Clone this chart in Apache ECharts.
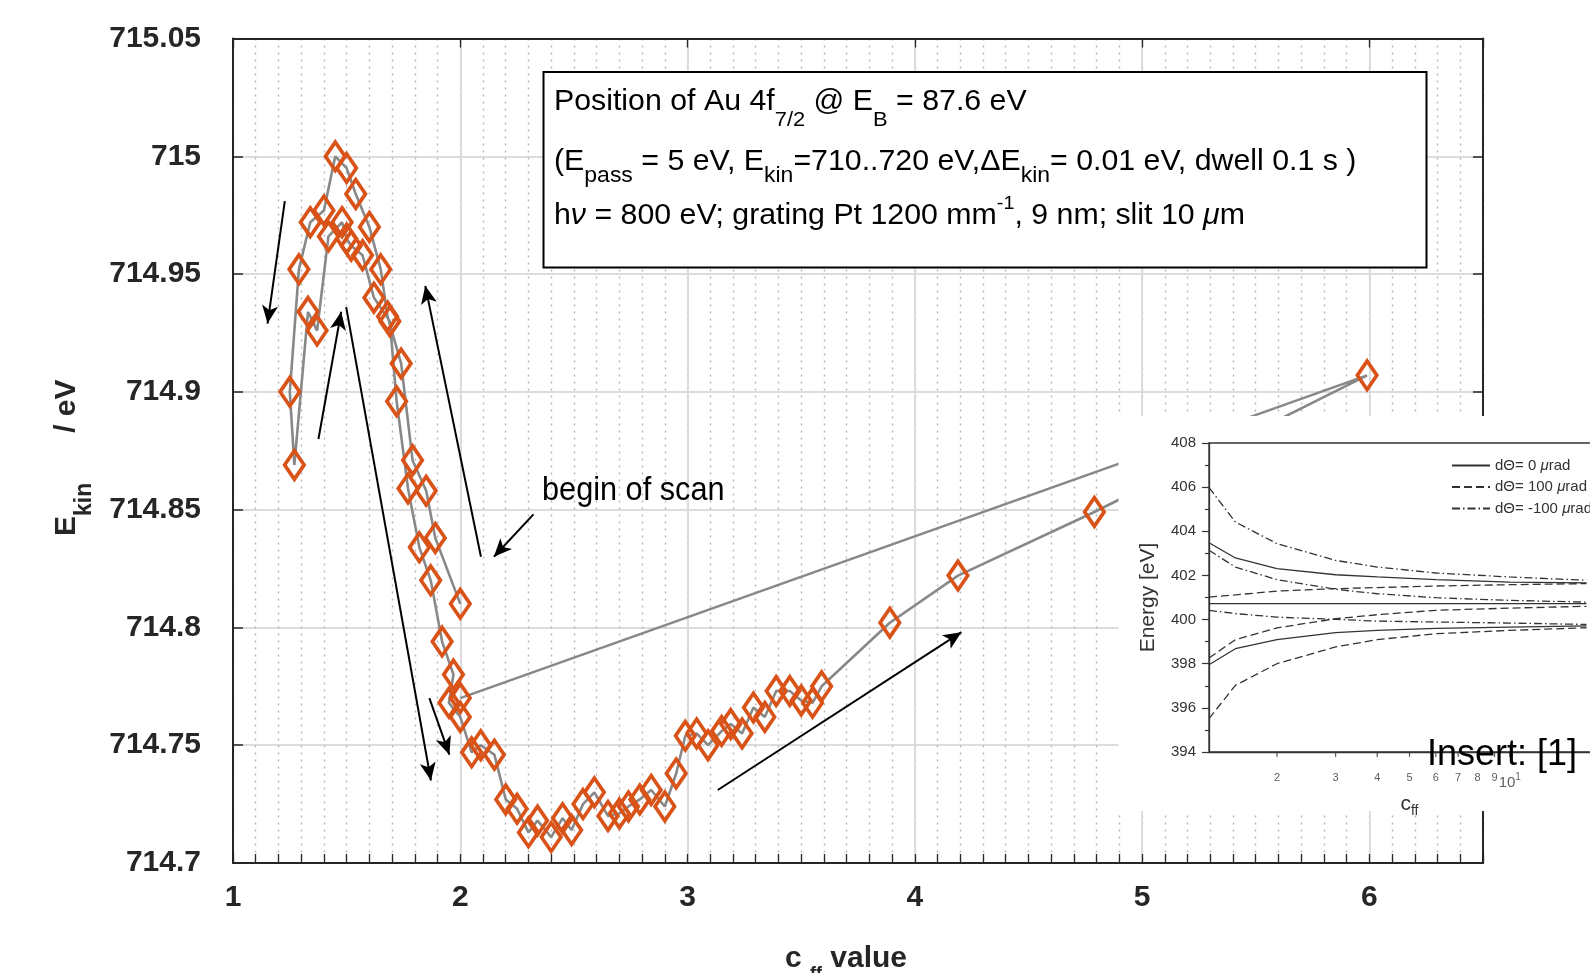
<!DOCTYPE html>
<html>
<head>
<meta charset="utf-8">
<title>Position of Au 4f7/2 vs cff</title>
<script src="https://cdn.jsdelivr.net/npm/echarts@6.0.0/dist/echarts.min.js"></script>
<style>
  html, body { margin: 0; padding: 0; background: #fff; }
  #chart { width: 1590px; height: 973px; }
</style>
</head>
<body>
<div id="chart"></div>
<script>
// scan in acquisition order: c_ff value and measured E_kin of the peak
const scanCff = [2.00, 1.89, 1.85, 1.79, 1.74, 1.68, 1.65, 1.60, 1.54, 1.50,
  1.45, 1.40, 1.34, 1.29, 1.25, 1.27, 1.33, 1.37, 1.42, 1.48,
  1.50, 1.52, 1.57, 1.62, 1.69, 1.72, 1.77, 1.82, 1.87, 1.92,
  1.97, 1.95, 2.00, 2.05, 2.09, 2.15, 2.20, 2.25, 2.30, 2.34,
  2.40, 2.45, 2.49, 2.54, 2.59, 2.65, 2.70, 2.74, 2.79, 2.84,
  2.90, 2.95, 2.99, 3.04, 3.09, 3.15, 3.19, 3.24, 3.29, 3.34,
  3.39, 3.45, 3.50, 3.55, 3.59, 3.89, 4.19, 4.79, 5.99, 2.00];
const scanEkin = [714.810, 714.838, 714.858, 714.871, 714.912, 714.932, 714.952, 714.970, 714.984, 714.995,
  715.000, 714.977, 714.972, 714.952, 714.900, 714.869, 714.934, 714.926, 714.966, 714.972,
  714.965, 714.962, 714.958, 714.940, 714.930, 714.896, 714.859, 714.834, 714.820, 714.794,
  714.780, 714.768, 714.762, 714.747, 714.750, 714.746, 714.727, 714.723, 714.713, 714.718,
  714.711, 714.719, 714.714, 714.725, 714.730, 714.720, 714.721, 714.724, 714.727, 714.731,
  714.724, 714.738, 714.754, 714.755, 714.750, 714.756, 714.759, 714.755, 714.766, 714.762,
  714.773, 714.773, 714.769, 714.768, 714.775, 714.802, 714.822, 714.849, 714.907, 714.770];

// hand-drawn direction arrows (data coordinates: from -> to)
const arrowFrom = [[1.228, 714.981], [1.376, 714.880], [1.498, 714.936], [1.864, 714.770],
  [2.091, 714.830], [2.322, 714.848], [3.133, 714.731]];
const arrowTo = [[1.152, 714.929], [1.476, 714.934], [1.871, 714.735], [1.952, 714.746],
  [1.846, 714.945], [2.148, 714.830], [4.205, 714.798]];

// inset [1]: energy vs c_ff for three angle errors
const insetCff = [1.25, 1.5, 2, 3, 4, 6, 10, 17];
const zeroUpper = [403.48, 402.79, 402.31, 402.03, 401.93, 401.81, 401.70, 401.66];
const zeroCentre = [400.72, 400.72, 400.72, 400.72, 400.72, 400.72, 400.72, 400.72];
const zeroLower = [397.95, 398.68, 399.09, 399.41, 399.51, 399.60, 399.66, 399.71];
const plusUpper = [401.02, 401.12, 401.29, 401.40, 401.45, 401.52, 401.58, 401.63];
const plusCentre = [398.26, 399.09, 399.62, 400.04, 400.22, 400.42, 400.52, 400.60];
const plusLower = [395.51, 397.02, 398.00, 398.76, 399.09, 399.36, 399.51, 399.63];
const minusUpper = [405.98, 404.42, 403.44, 402.68, 402.38, 402.11, 401.93, 401.78];
const minusCentre = [403.14, 402.38, 401.81, 401.37, 401.17, 400.99, 400.87, 400.79];
const minusLower = [400.42, 400.27, 400.11, 400.01, 399.93, 399.89, 399.84, 399.78];
const insetNames = ['dΘ= 0 μrad', 'dΘ= 100 μrad', 'dΘ= -100 μrad'];
const insetTickVals = [2, 3, 4, 5, 6, 7, 8, 9, 10];
const insetTickText = ['2', '3', '4', '5', '6', '7', '8', '9', '{b|10}{sup|1}'];

const font = 'Liberation Sans, Arial, sans-serif';
const ink = '#262626';
const orange = '#d95319';

const chart = echarts.init(document.getElementById('chart'));

const dashOf = ['solid', [8, 4], [8, 3, 1.5, 3]];
const insetCurves = [
  [zeroUpper, 0], [zeroCentre, 0], [zeroLower, 0],
  [plusUpper, 1], [plusCentre, 1], [plusLower, 1],
  [minusUpper, 2], [minusCentre, 2], [minusLower, 2]
];

const insetSeries = insetCurves.map(([vals, k]) => ({
  type: 'line',
  name: insetNames[k],
  xAxisIndex: 2,
  yAxisIndex: 2,
  z: 20,
  data: insetCff.map((c, i) => [c, vals[i]]),
  symbol: 'none',
  showSymbol: false,
  silent: true,
  itemStyle: { color: '#333' },
  lineStyle: { color: '#333', width: 1.3, type: dashOf[k] }
}));

const option = {
  animation: false,
  backgroundColor: '#fff',
  grid: [
    { left: 233, right: 107, top: 38.5, bottom: 110, outerBoundsMode: 'none' },
    { left: 1209, top: 443, width: 401, height: 309, z: 20, show: true,
      borderColor: '#333', borderWidth: 1.3, outerBoundsMode: 'none' }
  ],
  legend: {
    data: insetNames,
    orient: 'vertical',
    left: 1446,
    top: 453,
    z: 20,
    itemWidth: 38,
    itemHeight: 14,
    itemGap: 6.5,
    selectedMode: false,
    itemStyle: { opacity: 0 },
    formatter: n => n.replace('μ', '{mu|μ}'),
    textStyle: {
      fontFamily: font, fontSize: 15, color: '#333',
      rich: { mu: { fontFamily: font, fontSize: 15, fontStyle: 'italic', color: '#333' } }
    }
  },
  xAxis: [
    {
      type: 'value', gridIndex: 0, position: 'bottom',
      min: 1, max: 6.5, interval: 0.1,
      name: '{m|c }{s|ff}{m| value}',
      nameLocation: 'middle', nameGap: 72, nameMoveOverlap: false,
      nameTextStyle: {
        padding: [0, 24, 0, 0],
        rich: {
          m: { fontFamily: font, fontSize: 30, fontWeight: 'bold', color: ink },
          s: { fontFamily: font, fontSize: 18, fontWeight: 'bold', color: ink, padding: [30, 0, 0, 0] }
        }
      },
      axisLine: { lineStyle: { color: ink, width: 2 } },
      axisTick: { inside: true, length: 9, lineStyle: { color: ink, width: 1.3 } },
      axisLabel: {
        margin: 20, fontFamily: font, fontSize: 30, fontWeight: 'bold', color: ink,
        formatter: v => Math.abs(v - Math.round(v)) < 1e-6 ? String(Math.round(v)) : ''
      },
      splitLine: { show: true, lineStyle: { color: '#b5b5b5', width: 1.4, type: [2, 5] } }
    },
    {
      type: 'value', gridIndex: 0, position: 'top',
      min: 1, max: 6.5, interval: 1,
      axisLine: { lineStyle: { color: ink, width: 2 } },
      axisTick: { inside: true, length: 9, lineStyle: { color: ink, width: 1.3 } },
      axisLabel: { show: false },
      splitLine: { show: true, lineStyle: { color: '#dcdcdc', width: 2 } }
    },
    {
      type: 'log', gridIndex: 1, logBase: 10, min: 1.25, max: 20, z: 20,
      name: '{c|c}{s|ff}', nameLocation: 'middle', nameGap: 38, nameMoveOverlap: false,
      nameTextStyle: {
        rich: {
          c: { fontFamily: font, fontSize: 21, color: '#333' },
          s: { fontFamily: font, fontSize: 14, color: '#333', padding: [14, 0, 0, 0] }
        }
      },
      axisLine: { lineStyle: { color: '#333', width: 1.3 } },
      axisTick: { show: false },
      axisLabel: { show: false },
      splitLine: { show: false },
      minorSplitLine: { show: false }
    }
  ],
  yAxis: [
    {
      type: 'value', gridIndex: 0, position: 'left',
      min: 714.7, max: 715.05, interval: 0.05,
      name: '{e|E}{s|kin}{e|      / eV}',
      nameLocation: 'middle', nameRotate: 90, nameGap: 137, nameMoveOverlap: false,
      nameTextStyle: {
        padding: [0, 14, 0, 0],
        rich: {
          e: { fontFamily: font, fontSize: 30, fontWeight: 'bold', color: ink },
          s: { fontFamily: font, fontSize: 23, fontWeight: 'bold', color: ink, padding: [36, 0, 0, 0] }
        }
      },
      axisLine: { lineStyle: { color: ink, width: 2 } },
      axisTick: { inside: true, length: 10, lineStyle: { color: ink, width: 1.5 } },
      axisLabel: { margin: 32, fontFamily: font, fontSize: 30, fontWeight: 'bold', color: ink },
      splitLine: { show: true, lineStyle: { color: '#dcdcdc', width: 2 } }
    },
    {
      type: 'value', gridIndex: 0, position: 'right',
      min: 714.7, max: 715.05, interval: 0.05,
      axisLine: { show: true, lineStyle: { color: ink, width: 2 } },
      axisTick: { inside: true, length: 10, lineStyle: { color: ink, width: 1.5 } },
      axisLabel: { show: false },
      splitLine: { show: false }
    },
    {
      type: 'value', gridIndex: 1, min: 394, max: 408, interval: 2, z: 20,
      name: 'Energy [eV]', nameLocation: 'middle', nameRotate: 90, nameGap: 50,
      nameMoveOverlap: false,
      nameTextStyle: { fontFamily: font, fontSize: 21, color: '#333' },
      axisLine: { show: true, lineStyle: { color: '#333', width: 1.3 } },
      axisTick: { show: true, length: 7, lineStyle: { color: '#333', width: 1.2 } },
      minorTick: { show: true, splitNumber: 2, length: 4, lineStyle: { color: '#333', width: 1.2 } },
      axisLabel: { margin: 13, fontFamily: font, fontSize: 15, color: '#333' },
      splitLine: { show: false }
    }
  ],
  series: [
    {
      type: 'line',
      name: 'scan',
      xAxisIndex: 0,
      yAxisIndex: 0,
      z: 2,
      data: scanCff.map((c, i) => [c, scanEkin[i]]),
      symbol: 'diamond',
      symbolSize: [19.5, 28.5],
      showAllSymbol: true,
      silent: true,
      lineStyle: { color: '#888', width: 2.6 },
      itemStyle: { color: 'rgba(0,0,0,0)', borderColor: orange, borderWidth: 3.8 },
      markLine: {
        silent: true,
        z: 6,
        symbol: ['none', 'arrow'],
        symbolSize: [12, 18],
        label: { show: false },
        lineStyle: { color: '#000', width: 2, type: 'solid' },
        data: arrowFrom.map((p, i) => [{ coord: p }, { coord: arrowTo[i] }])
      }
    },
    ...insetSeries,
    {
      type: 'scatter',
      name: 'insetTicks',
      xAxisIndex: 2,
      yAxisIndex: 2,
      z: 21,
      clip: false,
      silent: true,
      data: insetTickVals.map(v => [v, 394]),
      symbol: 'rect',
      symbolSize: [1.2, 5],
      symbolOffset: [0, 2.5],
      itemStyle: { color: '#333' },
      label: {
        show: true, position: 'bottom', distance: 15,
        fontFamily: font, fontSize: 11, color: '#333',
        formatter: p => insetTickText[p.dataIndex],
        rich: {
          b: { fontFamily: font, fontSize: 15, color: '#333' },
          sup: { fontFamily: font, fontSize: 10, color: '#333', padding: [0, 0, 12, 0] }
        }
      }
    }
  ],
  graphic: [
    {
      type: 'rect', z: 10, silent: true,
      shape: { x: 543.5, y: 72, width: 883, height: 195.5 },
      style: { fill: '#fff', stroke: '#000', lineWidth: 2 }
    },
    {
      type: 'text', z: 11, x: 554, y: 101.5, scaleX: 1.045, silent: true,
      style: {
        text: 'Position of Au 4f{sub|7/2} @ E{sub|B} = 87.6 eV',
        fontFamily: font, fontSize: 29, fill: '#000', verticalAlign: 'middle',
        rich: { sub: { fontFamily: font, fontSize: 21, fill: '#000', padding: [38, 0, 0, 0] } }
      }
    },
    {
      type: 'text', z: 11, x: 554, y: 162, scaleX: 1.045, silent: true,
      style: {
        text: '(E{sub|pass} = 5 eV, E{sub|kin}=710..720 eV,ΔE{sub|kin}= 0.01 eV, dwell 0.1 s )',
        fontFamily: font, fontSize: 29, fill: '#000', verticalAlign: 'middle',
        rich: { sub: { fontFamily: font, fontSize: 22, fill: '#000', padding: [28, 0, 0, 0] } }
      }
    },
    {
      type: 'text', z: 11, x: 554, y: 216, scaleX: 1.045, silent: true,
      style: {
        text: 'h{it|ν} = 800 eV; grating Pt 1200 mm{sup|-1}, 9 nm; slit 10 {it|μ}m',
        fontFamily: font, fontSize: 29, fill: '#000', verticalAlign: 'middle',
        rich: {
          it: { fontFamily: font, fontSize: 29, fontStyle: 'italic', fill: '#000' },
          sup: { fontFamily: font, fontSize: 19, fill: '#000', padding: [0, 0, 24, 0] }
        }
      }
    },
    {
      type: 'text', z: 11, x: 542, y: 491, scaleX: 0.93, silent: true,
      style: {
        text: 'begin of scan',
        fontFamily: font, fontSize: 33, fill: '#000', verticalAlign: 'middle'
      }
    },
    {
      type: 'rect', z: 10, silent: true,
      shape: { x: 1118.5, y: 416, width: 480, height: 395 },
      style: { fill: '#fff' }
    },
    {
      type: 'text', z: 30, x: 1427, y: 755, silent: true,
      style: {
        text: 'Insert: [1]',
        fontFamily: font, fontSize: 36, fill: '#000', verticalAlign: 'middle'
      }
    }
  ]
};

chart.setOption(option);
window.addEventListener('resize', () => chart.resize());
</script>
</body>
</html>
